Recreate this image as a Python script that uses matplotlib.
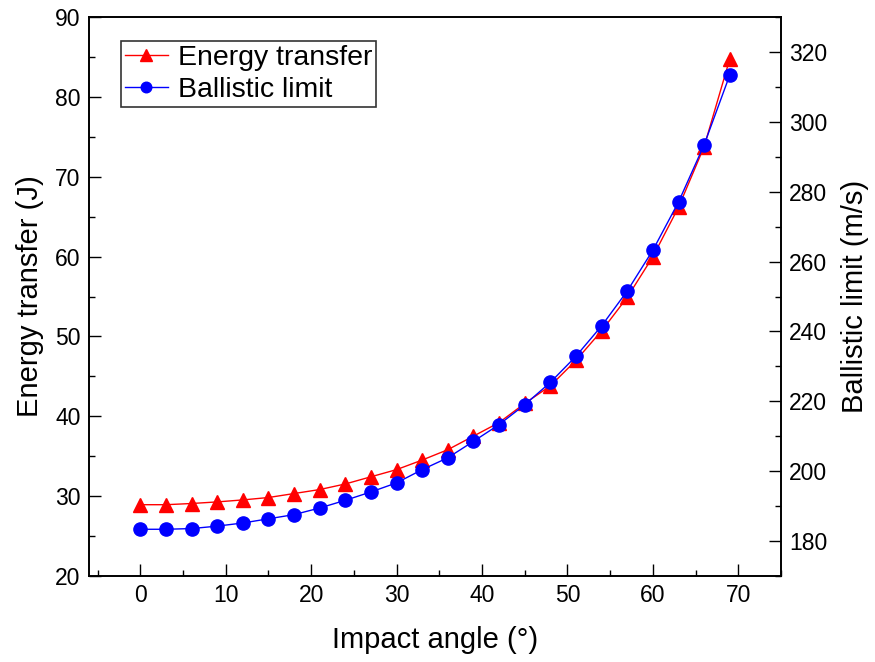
import numpy as np
import matplotlib
matplotlib.use('Agg')
import matplotlib.pyplot as plt
from matplotlib.ticker import MultipleLocator

plt.rcParams['font.family'] = ['Liberation Sans', 'DejaVu Sans']

# Impact angle (deg)
angle = [0, 3, 6, 9, 12, 15, 18, 21, 24, 27, 30, 33,
         36, 39, 42, 45, 48, 51, 54, 57, 60, 63, 66, 69]
# Energy transfer (J)
energy = [28.9, 28.9, 29.05, 29.25, 29.5, 29.8, 30.3, 30.8, 31.5, 32.4, 33.3, 34.5,
          35.8, 37.5, 39.2, 41.6, 43.8, 47.0, 50.7, 54.9, 60.0, 66.2, 73.8, 84.8]
# Ballistic limit (m/s)
ballistic = [183.3, 183.3, 183.5, 184.2, 185.1, 186.3, 187.5, 189.4, 191.6, 194.0, 196.6, 200.4,
             203.8, 208.5, 213.3, 219.0, 225.4, 232.9, 241.6, 251.6, 263.3, 277.1, 293.5, 313.5]

fig = plt.figure(figsize=(8.75, 6.62), dpi=100)
ax = fig.add_axes([0.1017, 0.1304, 0.7909, 0.8432])
ax2 = ax.twinx()

l1, = ax.plot(angle, energy, color='red', lw=1.0, marker='^', ms=10,
              mec='red', label='Energy transfer')
l2, = ax2.plot(angle, ballistic, color='blue', lw=1.0, marker='o', ms=9.5,
               mec='blue', label='Ballistic limit')

ax.set_xlim(-6, 75)
ax.set_ylim(20, 90)
ax2.set_ylim(170, 330)

ax.xaxis.set_major_locator(MultipleLocator(10))
ax.xaxis.set_minor_locator(MultipleLocator(5))
ax.yaxis.set_major_locator(MultipleLocator(10))
ax.yaxis.set_minor_locator(MultipleLocator(5))
ax2.yaxis.set_major_locator(MultipleLocator(20))
ax2.yaxis.set_minor_locator(MultipleLocator(10))

for a in (ax, ax2):
    a.tick_params(which='major', direction='in', length=8.5, width=1.0, labelsize=16.5, pad=6)
    a.tick_params(which='minor', direction='in', length=4, width=1.0)
    for s in a.spines.values():
        s.set_linewidth(1.2)
ax.tick_params(axis='y', which='both', right=False)
ax.tick_params(axis='x', which='both', top=False)

ax.set_xlabel('Impact angle (°)', fontsize=21, labelpad=14)
ax.set_ylabel('Energy transfer (J)', fontsize=21, labelpad=8)
ax2.set_ylabel('Ballistic limit (m/s)', fontsize=21, labelpad=10)

leg = ax2.legend(handles=[l1, l2], loc='upper left', bbox_to_anchor=(0.0458, 0.958),
                 borderaxespad=0, fontsize=20.5, frameon=True, fancybox=False,
                 edgecolor='black', handlelength=1.5, handletextpad=0.35,
                 labelspacing=0.2, borderpad=0.15, markerscale=0.8)
leg.get_frame().set_linewidth(1.2)

fig.savefig('out.png', dpi=100)
